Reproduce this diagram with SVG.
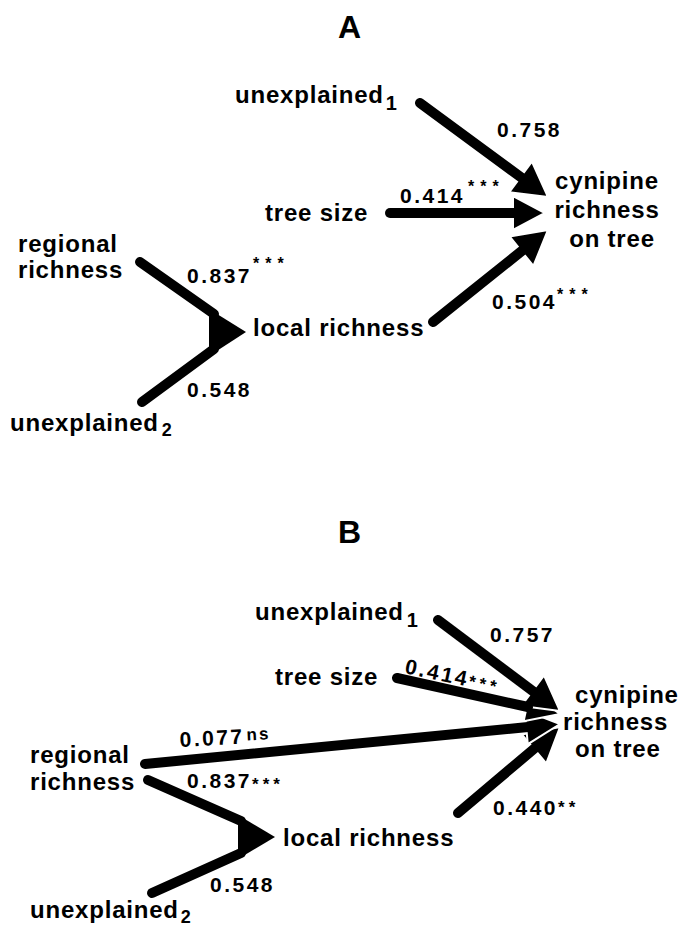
<svg xmlns="http://www.w3.org/2000/svg" width="682" height="927" viewBox="0 0 682 927">
<style>
text{font-family:"Liberation Sans",Arial,sans-serif;font-weight:bold;fill:#000}
.t{font-size:32px}
.n{font-size:24px;letter-spacing:0.8px}
.sub{font-size:20px;letter-spacing:0}
.sub2{font-size:18px;letter-spacing:0}
.c{font-size:21px;letter-spacing:2.5px}
.st{font-size:16px;letter-spacing:6px}
.si{font-size:17px;letter-spacing:4px}
.ns{font-size:17px;letter-spacing:2px}
.sh{stroke:#000;stroke-width:10;stroke-linecap:round;fill:none}
.hd{fill:#000;stroke:#fff;stroke-width:2;stroke-linejoin:miter}
.cv{fill:#000}
</style>
<rect width="682" height="927" fill="#fff"/>
<g id="connectors">
  <g id="connectors-A">
    <polygon class="hd" points="548,197 509.3,192.2 531.9,161.6"/>
    <polygon class="hd" points="548,230 533.4,266 509.6,236.4"/>
    <polygon class="hd" points="513,196 545,213 513,230"/>
    <polygon class="cv" points="209,309 246,332 209,356"/>
    <line class="sh" x1="420" y1="103" x2="522" y2="178"/>
    <line class="sh" x1="390" y1="213" x2="516" y2="213"/>
    <line class="sh" x1="433" y1="322" x2="523" y2="250"/>
    <line class="sh" x1="140" y1="262" x2="214" y2="314"/>
    <line class="sh" x1="142" y1="402" x2="214" y2="349"/>
  </g>
  <g id="connectors-B">
    <polygon class="hd" points="560,727 546.3,763.4 521.8,734.4"/>
    <polygon class="hd" points="560,724 527.8,744.2 524.6,710.4"/>
    <polygon class="hd" points="560,714 523.6,721.3 530,692.1"/>
    <polygon class="hd" points="560,711 521.3,705.9 544.1,675.5"/>
    <polygon class="cv" points="238,815 275,837 238,859"/>
    <line class="sh" x1="438" y1="620" x2="534" y2="692"/>
    <line class="sh" x1="397" y1="678" x2="528" y2="707"/>
    <line class="sh" x1="145" y1="764" x2="528" y2="727"/>
    <line class="sh" x1="458" y1="813" x2="535" y2="748"/>
    <line class="sh" x1="148" y1="780" x2="241" y2="821"/>
    <line class="sh" x1="152" y1="893" x2="241" y2="853"/>
  </g>
</g>
<g id="labels-A">
  <text class="c" x="497" y="137">0.758</text>
  <text class="c" x="400" y="203">0.414</text><text class="st" x="468" y="192">***</text>
  <text class="c" x="187" y="283">0.837</text><text class="st" x="253" y="269">***</text>
  <text class="c" x="492" y="309">0.504</text><text class="st" x="557" y="300">***</text>
  <text class="c" x="187" y="397">0.548</text>
</g>
<g id="labels-B">
  <text class="c" x="490" y="642">0.757</text>
  <text class="c" transform="translate(404,673) rotate(12)">0.414<tspan class="si">***</tspan></text>
  <text class="c" transform="translate(180,747) rotate(-3)">0.077<tspan class="ns" dx="2" dy="-3">ns</tspan></text>
  <text class="c" x="187" y="788">0.837<tspan class="si" dy="2">***</tspan></text>
  <text class="c" x="210" y="892">0.548</text>
  <text class="c" x="493" y="815">0.440<tspan class="si" dy="-2">**</tspan></text>
</g>
<g id="title-A"><text class="t" x="349.5" y="38" text-anchor="middle">A</text></g>
<g id="A-unexplained1"><text class="n" x="235" y="103">unexplained<tspan class="sub" dx="2" dy="7">1</tspan></text></g>
<g id="A-treesize"><text class="n" x="265" y="221">tree size</text></g>
<g id="A-regional"><text class="n" x="18" y="252">regional</text><text class="n" x="18" y="278">richness</text></g>
<g id="A-local"><text class="n" x="253" y="336">local richness</text></g>
<g id="A-unexplained2"><text class="n" x="10" y="431">unexplained<tspan class="sub2" dx="3" dy="5">2</tspan></text></g>
<g id="A-cynipine"><text class="n" x="607" y="189" text-anchor="middle">cynipine</text><text class="n" x="607" y="218" text-anchor="middle">richness</text><text class="n" x="612" y="247" text-anchor="middle">on tree</text></g>
<g id="title-B"><text class="t" x="349.5" y="543" text-anchor="middle">B</text></g>
<g id="B-unexplained1"><text class="n" x="255" y="620">unexplained<tspan class="sub" dx="3" dy="7">1</tspan></text></g>
<g id="B-treesize"><text class="n" x="275" y="685">tree size</text></g>
<g id="B-regional"><text class="n" x="30" y="763">regional</text><text class="n" x="30" y="790">richness</text></g>
<g id="B-local"><text class="n" x="283" y="846">local richness</text></g>
<g id="B-unexplained2"><text class="n" x="30" y="918">unexplained<tspan class="sub2" dx="2" dy="5">2</tspan></text></g>
<g id="B-cynipine"><text class="n" x="575" y="703">cynipine</text><text class="n" x="563" y="730">richness</text><text class="n" x="575" y="757">on tree</text></g>
</svg>
